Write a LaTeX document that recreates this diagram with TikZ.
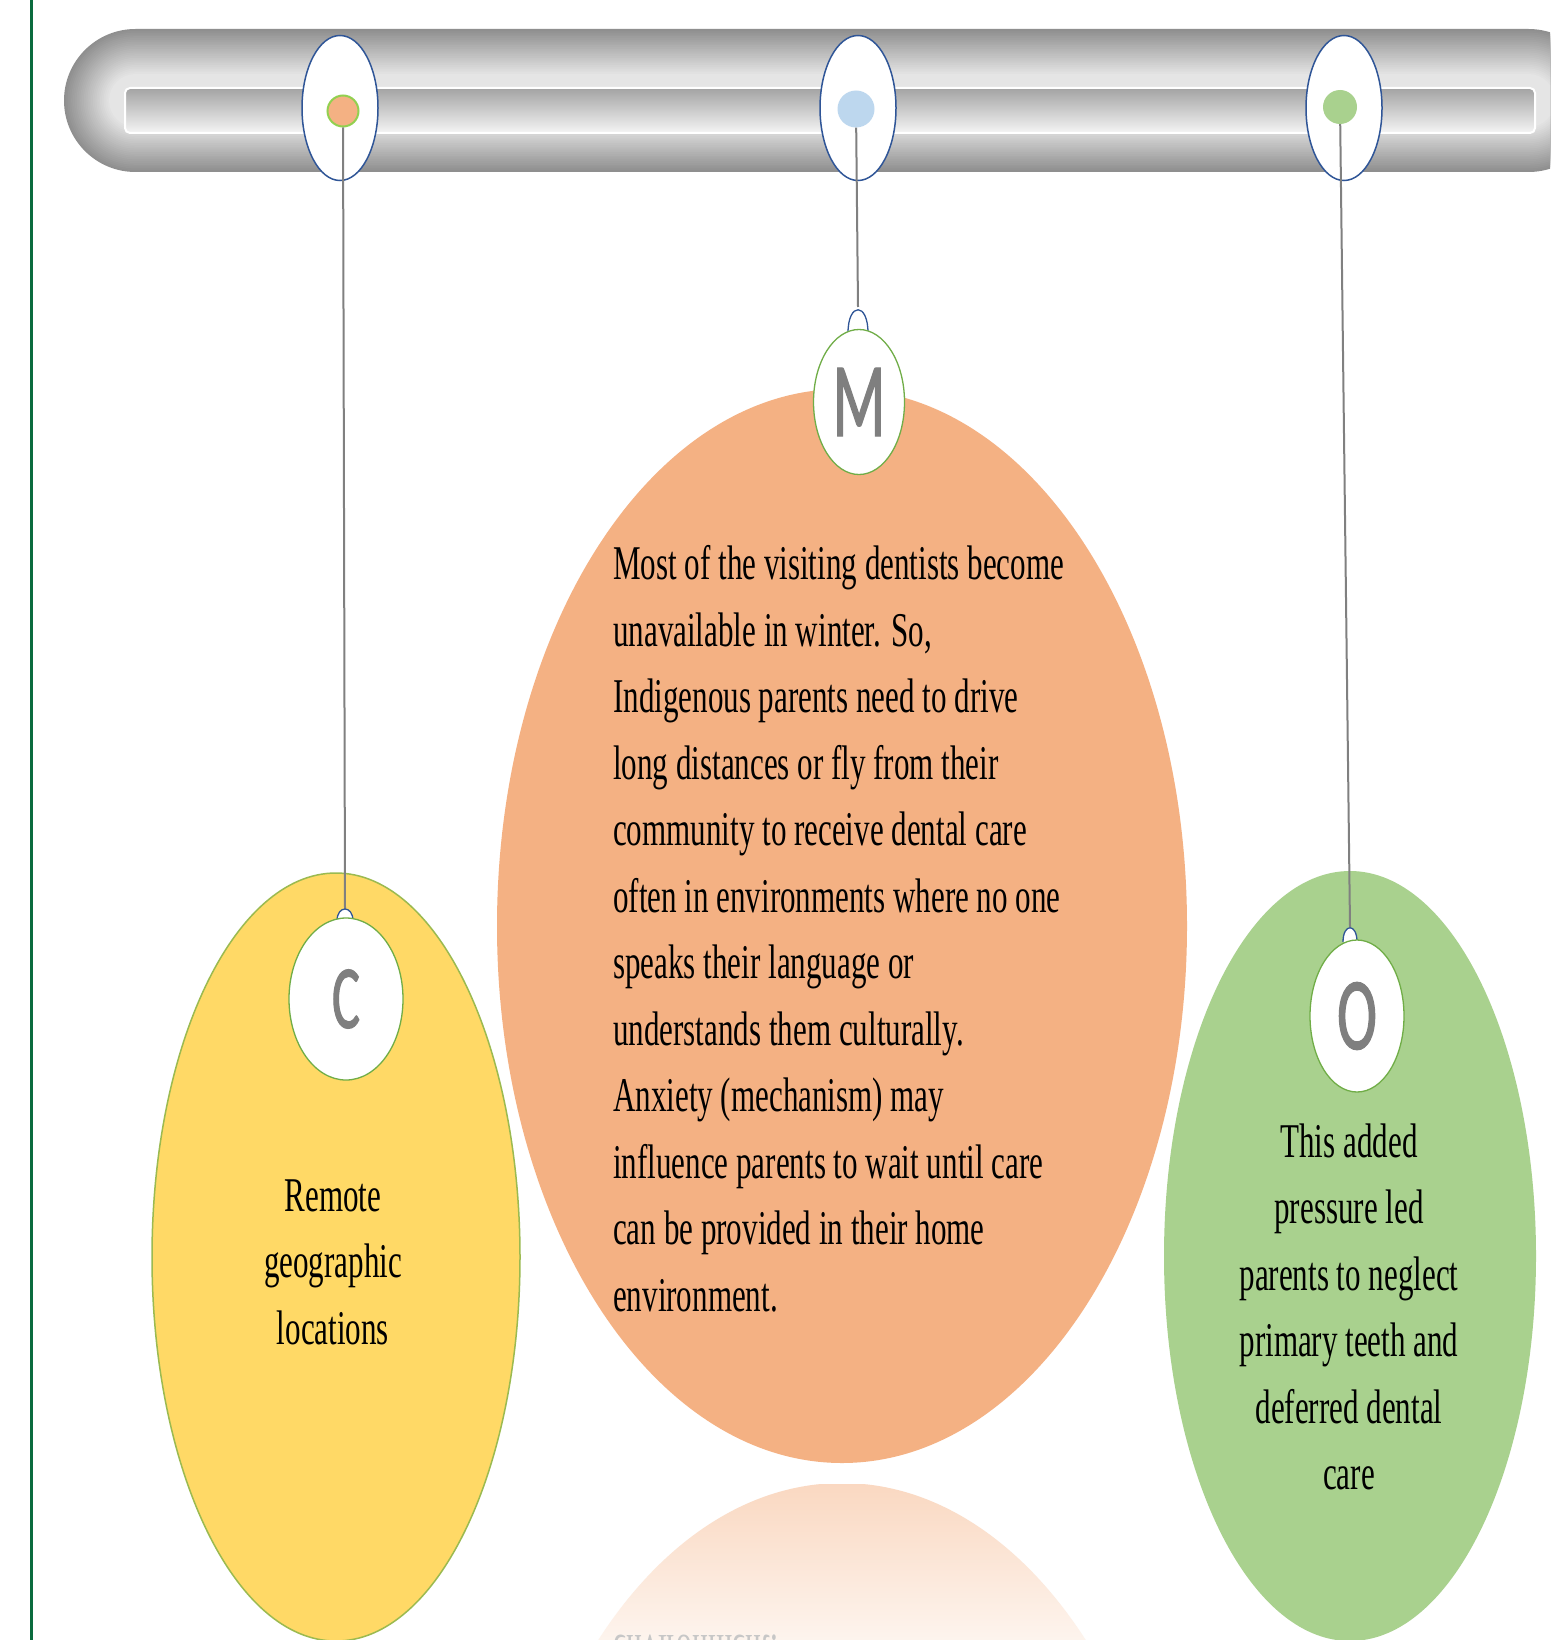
\documentclass[tikz,border=0pt]{standalone}
\usepackage{fontspec}
\setmainfont{Liberation Serif}
\newfontfamily\bodyfont[FakeStretch=0.64]{Liberation Serif}
\newfontfamily\letterfont[FakeStretch=0.58,FakeBold=1.2]{Carlito}
\usetikzlibrary{shapes.geometric}
\definecolor{borange}{HTML}{F4B183}
\definecolor{byellow}{HTML}{FFD966}
\definecolor{bgreen}{HTML}{A9D18E}
\definecolor{bblue}{HTML}{BDD7EE}
\definecolor{pinblue}{HTML}{2F5597}
\definecolor{rimgreen}{HTML}{70AD47}
\definecolor{dotrim}{HTML}{92D050}
\definecolor{edgegreen}{HTML}{0B6B3E}
\definecolor{lettergray}{HTML}{7F7F7F}
\definecolor{cordgray}{HTML}{808080}
\tikzset{
  pinoval/.style={ellipse, draw=pinblue, line width=1.5pt, fill=white, minimum width=76pt, minimum height=145pt, inner sep=0pt},
  pindot/.style={circle, inner sep=0pt, minimum size=#1},
  cord/.style={draw=cordgray, line width=2pt},
  loopmark/.style={draw=pinblue, line width=1.3pt, fill=white},
  badge/.style={ellipse, draw=rimgreen, line width=1.3pt, fill=white, inner sep=0pt, text=lettergray},
  bigoval/.style={ellipse, inner sep=0pt},
  bodytext/.style={font=\bodyfont\fontsize{48.5}{66.5}\selectfont, inner sep=0pt, text=black},
}
\begin{document}
\begin{tikzpicture}[x=1pt,y=-1pt]
\useasboundingbox (0,0) rectangle (1550,1640);
\clip (0,0) rectangle (1550,1640);
\fill[white] (0,0) rectangle (1550,1640);
\draw[edgegreen, line width=3pt] (31,0) -- (31,1640);
% bar with bevel
\foreach \i in {0,...,25}{
  \pgfmathsetmacro{\ins}{1.8*\i}
  \pgfmathsetmacro{\rad}{71.5-\ins}
  \pgfmathsetmacro{\lev}{44-1.35*\i}
  \fill[black!\lev, rounded corners=\rad pt] (64+\ins,29+\ins) rectangle (1600-\ins,172-\ins);
}
% slot
\shade[top color=black!36, middle color=black!7, bottom color=black!4, rounded corners=5pt] (125,88) rectangle (1535,133);
\draw[white, line width=2pt, rounded corners=5pt] (125,88) rectangle (1535,133);
% big ovals
\node[bigoval, fill=byellow, draw=rimgreen!70!byellow, line width=1.5pt, minimum width=368pt, minimum height=768pt] (cbig) at (336,1257) {};
\node[bigoval, fill=borange, minimum width=690pt, minimum height=1074pt] (mbig) at (842,926) {};
\node[bigoval, fill=bgreen, minimum width=372pt, minimum height=770pt] (obig) at (1350,1256) {};
% reflection
\begin{scope}
  \clip (842,2020) ellipse [x radius=345, y radius=537];
  \shade[top color=borange!50, bottom color=borange!14] (490,1484) rectangle (1200,1640);
  \node[bodytext, text=black!22, anchor=west, yscale=-1, transform shape] (mirror) at (613,1651) {environment.};
\end{scope}
% pins on the bar
\node[pinoval] (p1) at (340,108) {};
\node[pinoval] (p2) at (858,108) {};
\node[pinoval] (p3) at (1344,108) {};
\node[pindot=31pt, fill=borange, draw=dotrim, line width=2pt] (d1) at (343,111) {};
\node[pindot=37pt, fill=bblue] (d2) at (856,109) {};
\node[pindot=34pt, fill=bgreen] (d3) at (1340,107) {};
% cords
\coordinate (l1) at (345,909);
\coordinate (l2) at (858,307);
\coordinate (l3) at (1350,927);
\draw[cord] (d1) -- (l1);
\draw[cord] (d2) -- (l2);
\draw[cord] (d3) -- (l3);
% loops
\draw[loopmark] (337,921) .. controls (337,905) and (353,905) .. (353,921);
\draw[loopmark] (848,333) .. controls (848,302) and (868,302) .. (868,333);
\draw[loopmark] (1343,942) .. controls (1343,923) and (1357,923) .. (1357,942);
% badges
\node[badge, minimum width=114pt, minimum height=162pt, font=\letterfont\fontsize{90}{100}\selectfont] (cs) at (346,999) {C};
\node[badge, minimum width=91pt, minimum height=145pt, font=\letterfont\fontsize{106}{120}\selectfont] (ms) at (859,402) {M};
\node[badge, minimum width=94pt, minimum height=152pt, font=\letterfont\fontsize{103}{115}\selectfont] (os) at (1357,1016) {O};
% texts
\node[bodytext, align=center] (ctext) at (333,1262) {Remote\\geographic\\locations};
\node[bodytext, align=left, anchor=west] (mtext) at (613,929) {Most of the visiting dentists become\\
unavailable in winter. So,\\
Indigenous parents need to drive\\
long distances or fly from their\\
community to receive dental care\\
often in environments where no one\\
speaks their language or\\
understands them culturally.\\
Anxiety (mechanism) may\\
influence parents to wait until care\\
can be provided in their home\\
environment.};
\node[bodytext, align=center] (otext) at (1349,1307) {This added\\pressure led\\parents to neglect\\primary teeth and\\deferred dental\\care};
\end{tikzpicture}
\end{document}
